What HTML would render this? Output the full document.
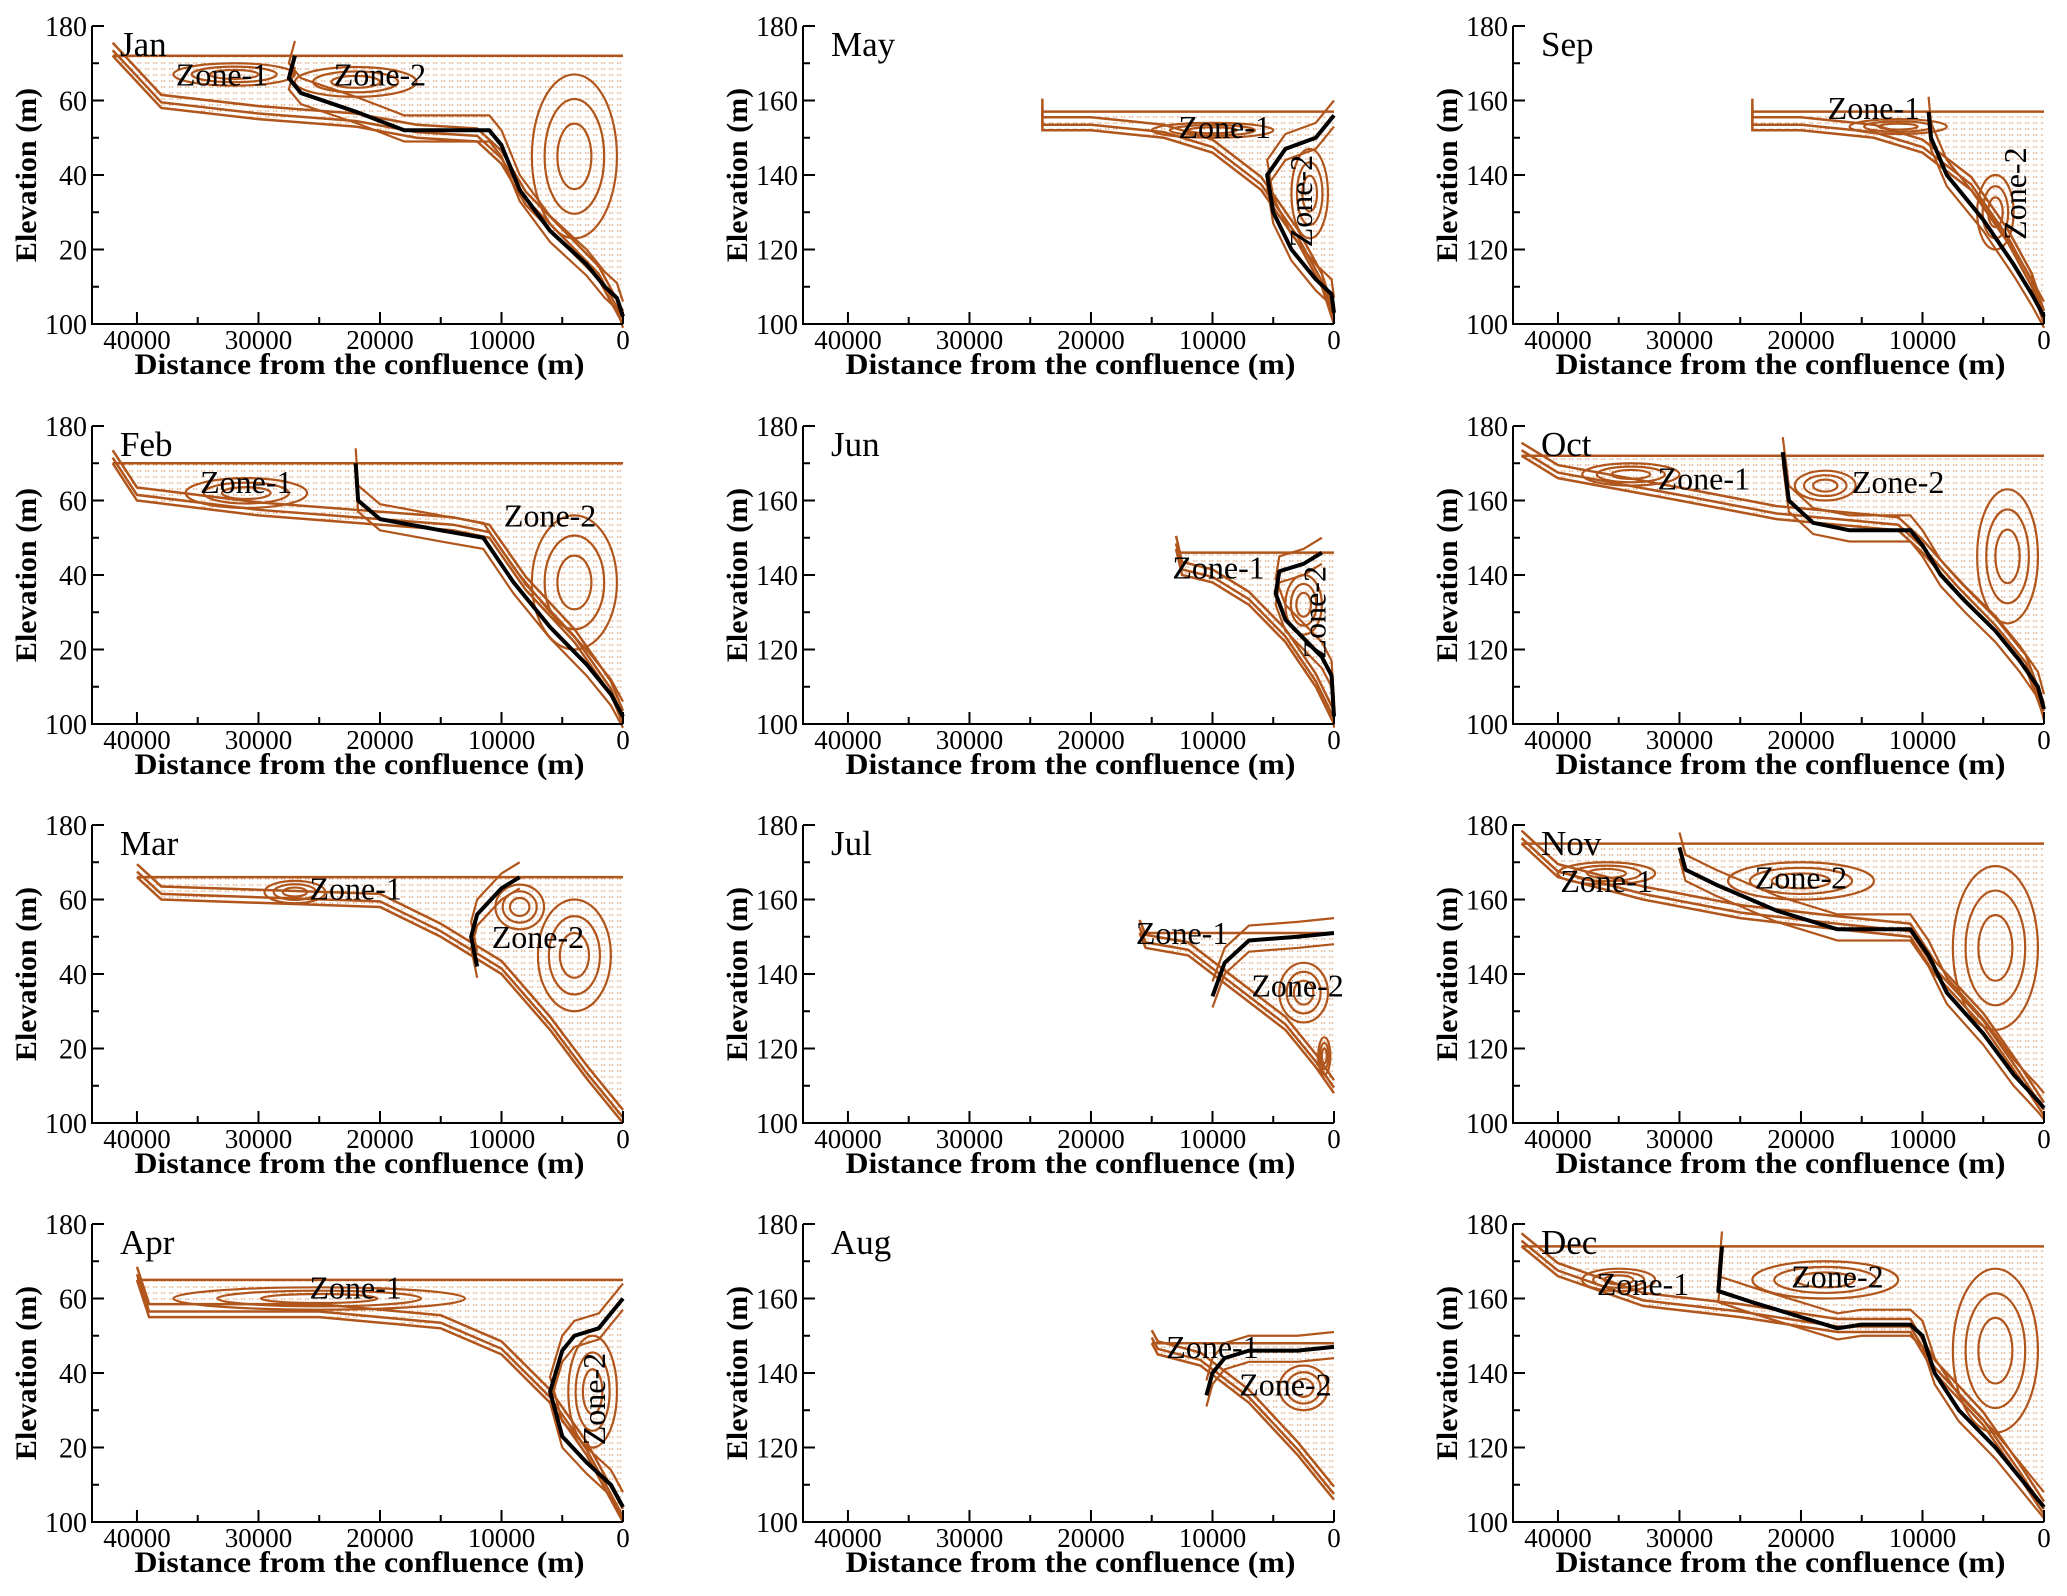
<!DOCTYPE html>
<html><head><meta charset="utf-8"><style>
html,body{margin:0;padding:0;background:#fff;}
svg{display:block;}
text{font-family:"Liberation Serif","DejaVu Serif",serif;}
</style></head>
<body>
<svg id="fig" width="2067" height="1596" viewBox="0 0 2067 1596" xmlns="http://www.w3.org/2000/svg">
<defs>
<pattern id="vec" width="8" height="6" patternUnits="userSpaceOnUse">
<line x1="1" y1="3" x2="6" y2="3" stroke="#d4844a" stroke-width="1.1" stroke-dasharray="1.5 1.2"/>
</pattern>
</defs>
</svg>
<script>
// ---- data ----
const months = ["Jan","Feb","Mar","Apr","May","Jun","Jul","Aug","Sep","Oct","Nov","Dec"];
const xTicks = [40000,30000,20000,10000,0];
const yTicksLeftLabels = ["180","60","40","20","100"];
const yTicksFullLabels = ["180","160","140","120","100"];
const yTickValues = [180,160,140,120,100];
const bedProfiles = [
 [[42000,172],[38000,158],[30000,155],[22000,153],[17000,150],[12000,149],[10000,143],[8000,132],[5000,122],[2000,112],[0,100]],
 [[42000,170],[40000,160],[30000,156],[22000,154],[14000,152],[11000,150],[8000,136],[4000,122],[1000,108],[0,100]],
 [[40000,166],[38000,160],[20000,158],[15000,150],[10000,140],[6000,125],[3000,112],[0,100]],
 [[40000,165],[39000,155],[25000,155],[15000,152],[10000,145],[6000,132],[3000,118],[1000,106],[0,100]],
 [[24000,157],[24000,152],[20000,152],[14000,150],[10000,146],[6000,136],[3000,122],[1000,110],[0,100]],
 [[13000,147],[12500,140],[10000,138],[7000,132],[4000,122],[1500,110],[0,100]],
 [[16000,151],[15500,147],[12000,145],[8000,135],[4000,125],[1500,115],[0,108]],
 [[15000,148],[14500,145],[11000,142],[7000,132],[3000,118],[1000,110],[0,106]],
 [[24000,157],[24000,152],[20000,152],[14000,150],[10000,146],[6000,136],[3000,122],[1000,110],[0,100]],
 [[43000,172],[40000,166],[30000,160],[22000,155],[12000,152],[10000,146],[7000,135],[4000,125],[1500,115],[0,102]],
 [[43000,175],[40000,166],[33000,160],[25000,155],[17000,152],[11000,150],[9000,140],[5000,126],[2000,112],[0,102]],
 [[43000,174],[40000,166],[33000,158],[25000,155],[17000,151],[11000,151],[9000,140],[5000,126],[2000,112],[0,102]]
];
const surfaceLevels = [172,170,166,165,157,146,151,148,157,172,175,174];
const zoneBoundaries = [
 [[27000,172],[27500,166],[26500,162],[22000,157],[18000,152],[15000,152],[11000,152],[10000,148],[8500,136],[6000,125],[3000,116],[1500,110],[500,107],[0,102]],
 [[22000,170],[21800,160],[20000,155],[15000,152],[11500,150],[9000,138],[6000,126],[3000,116],[1000,108],[0,102]],
 [[8500,166],[10000,163],[12000,156],[12500,150],[12000,142]],
 [[0,160],[2000,152],[4000,150],[5000,146],[6000,135],[5000,123],[3000,116],[1000,110],[0,104]],
 [[0,156],[1500,150],[4000,147],[5500,140],[5000,130],[3500,120],[1500,112],[200,108],[0,103]],
 [[1000,146],[2500,143],[4500,141],[4800,135],[4000,128],[2500,123],[1000,118],[200,113],[0,102]],
 [[0,151],[3000,150],[7000,149],[9000,143],[10000,134]],
 [[0,147],[3000,146],[7000,146],[9000,144],[10000,140],[10500,134]],
 [[9500,157],[9300,150],[8000,140],[5000,128],[2500,116],[1000,108],[0,102]],
 [[21500,173],[21000,160],[19000,154],[16000,152],[11000,152],[10000,148],[8500,140],[6500,133],[4000,125],[2000,117],[500,110],[0,104]],
 [[30000,174],[29500,168],[27000,164],[22000,157],[17000,152],[11000,152],[9500,145],[8000,135],[5000,124],[2500,113],[500,106],[0,104]],
 [[26500,174],[26800,162],[24000,159],[20000,155],[17000,152],[15000,153],[11000,153],[10000,150],[9000,140],[7000,130],[4000,120],[1500,110],[0,104]]
];
const zone1Pos = [[33000,164],[31000,162],[22000,160],[22000,160],[9000,150],[9500,139],[12500,148],[10000,144],[14000,155],[28000,163],[36000,162],[33000,161]];
const zone2Pos = [[20000,164],[6000,153],[7000,147],[1500,133],[1800,133],[700,130],[3000,134],[4000,134],[1500,135],[12000,162],[20000,163],[17000,163]];
const zone2Rot = [0,0,0,1,1,1,0,0,1,0,0,0];
// recirculation cells: [centre distance, centre elevation, half-width (m), half-height (m elev)]
const cells = [
 [[4000,145,3500,22],[22000,165,5000,4],[32000,167,5000,3]],
 [[4000,138,3500,18],[31000,162,5000,4]],
 [[27000,162,2500,3],[8500,158,2000,6],[4000,145,3000,15]],
 [[2500,135,2000,15],[25000,160,12000,3]],
 [[2000,135,1500,12],[10000,152,5000,2]],
 [[2500,132,1500,8]],
 [[2500,135,2000,8],[800,118,500,5]],
 [[2500,136,2000,6]],
 [[4000,130,1500,10],[12000,153,4000,2]],
 [[3000,145,2500,18],[18000,164,2500,4],[34000,167,4000,3]],
 [[4000,147,3500,22],[20000,165,6000,5],[36000,167,4000,3]],
 [[4000,146,3500,22],[18000,165,6000,5],[35000,165,3000,3]]
];
// ---- layout ----
const colL=[92,803,1513], rowT=[26,426,825,1224], W=531, H=298, XMAX=43700;
const svg=document.getElementById('fig'), NS="http://www.w3.org/2000/svg";
const BROWN="#b0561c";
function mk(tag,attrs,parent){const e=document.createElementNS(NS,tag);for(const k in attrs)e.setAttribute(k,attrs[k]);(parent||svg).appendChild(e);return e;}
months.forEach((m,i)=>{
 const col=Math.floor(i/4), row=i%4, L=colL[col], T=rowT[row];
 const xs=d=>L+W*(1-d/XMAX), ys=e=>T+H*(180-e)/80;
 const g=mk('g',{});
 
 
 const bed=bedProfiles[i], surf=surfaceLevels[i], up=bed[0][0];
 let pts=[[up,surf],[0,surf]].concat(bed.slice().reverse());
 const reg=mk('polygon',{points:pts.map(p=>xs(p[0])+','+ys(p[1])).join(' '),fill:'url(#vec)',stroke:'none'},g);
 
 
 const path=(arr,off)=>arr.map((p,k)=>(k?'L':'M')+xs(p[0])+' '+ys(p[1]+(off||0))).join(' ');
 const s1=mk('path',{d:path([[up,surf],[0,surf]]),stroke:BROWN,'stroke-width':2.5,fill:'none'},g);
 
 
 [0,1.5,3.5].forEach(o=>{const s=mk('path',{d:path(bed,o),stroke:BROWN,'stroke-width':2.5,fill:'none'},g);
  
  });
 const zb=zoneBoundaries[i];
 [-3,4].forEach(o=>{const s=mk('path',{d:path(zb,o),stroke:BROWN,'stroke-width':2.2,fill:'none'},g);
  
  });
 cells[i].forEach(c=>{
  [1,0.7,0.4].forEach(f=>{
   const e=mk('ellipse',{cx:xs(c[0]),cy:ys(c[1]),rx:Math.abs(xs(0)-xs(c[2]*f)),ry:Math.abs(ys(100)-ys(100+c[3]*f)),stroke:BROWN,'stroke-width':2.2,fill:'none'},g);
   
   
  });
 });
 const b=mk('path',{d:path(zb),stroke:'#000','stroke-width':4,fill:'none','stroke-linejoin':'round'},g);
 
 
 const z1=mk('text',{x:xs(zone1Pos[i][0]),y:ys(zone1Pos[i][1]),'font-size':32,'text-anchor':'middle'},g);z1.textContent='Zone-1';
 
 
 const zx=xs(zone2Pos[i][0]), zy=ys(zone2Pos[i][1]);
 const z2=mk('text',{x:zx,y:zy,'font-size':32,'text-anchor':'middle',transform:zone2Rot[i]?`rotate(-90 ${zx} ${zy})`:''},g);z2.textContent='Zone-2';
 
 
 const ax=mk('path',{d:`M${L} ${T} V${T+H} H${L+W}`,stroke:'#000','stroke-width':2,fill:'none'},g);
 
 
 for(let e=100;e<=180;e+=10){mk('line',{x1:L,x2:L+(e%20?7:12),y1:ys(e),y2:ys(e),stroke:'#000','stroke-width':2},g);}
 for(let d=0;d<=XMAX;d+=5000){mk('line',{x1:xs(d),x2:xs(d),y1:T+H,y2:T+H-(d%10000?7:12),stroke:'#000','stroke-width':2},g);}
 const labs=col===0?yTicksLeftLabels:yTicksFullLabels;
 yTickValues.forEach((v,k)=>{const t=mk('text',{x:L-5,y:ys(v)+10,'font-size':28,'text-anchor':'end'},g);t.textContent=labs[k];
  
  });
 xTicks.forEach(v=>{const t=mk('text',{x:xs(v),y:T+H+25,'font-size':27,'text-anchor':'middle'},g);t.textContent=String(v);
  
  });
 const xt=mk('text',{x:L+W/2+2,y:T+H+50,'font-size':30,'font-weight':'bold','text-anchor':'middle',textLength:450,lengthAdjust:'spacingAndGlyphs'},g);xt.textContent='Distance from the confluence (m)';
 
 
 const yx=L-56, yy=T+H/2;
 const yt=mk('text',{x:yx,y:yy,'font-size':30,'font-weight':'bold','text-anchor':'middle',transform:`rotate(-90 ${yx} ${yy})`},g);yt.textContent='Elevation (m)';
 
 
 const ml=mk('text',{x:L+28,y:T+30,'font-size':35},g);ml.textContent=m;
 
 
});
</script>
</body></html>
